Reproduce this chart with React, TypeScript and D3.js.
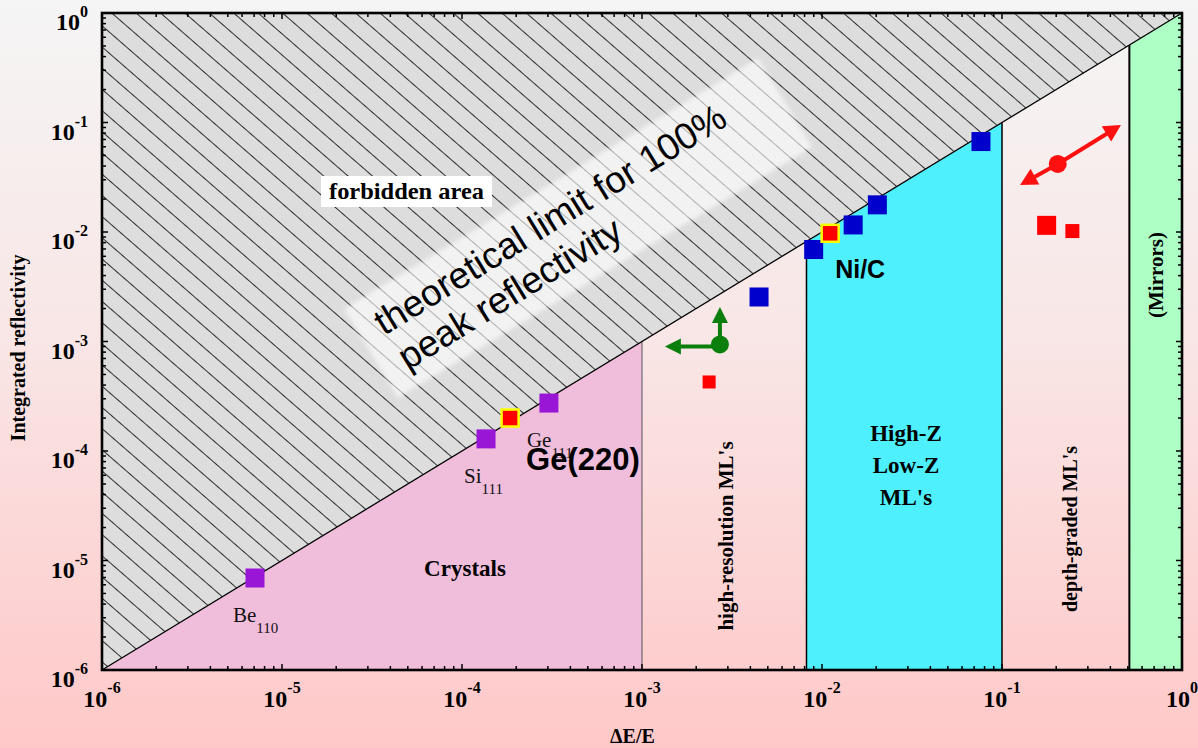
import React from "react";
import * as d3 from "d3";

const W = 1198;
const H = 748;
const PLOT = { left: 102, right: 1182, top: 13, bottom: 670 };

const SERIF = "'Liberation Serif', 'Times New Roman', serif";
const SANS = "'Liberation Sans', Arial, sans-serif";

// ΔE/E boundaries of the shaded technology bands
const crystalEdge = 1e-3;
const highZEdges = [0.0082, 0.1];
const mirrorEdge = 0.51;

// Crystal reflections (ΔE/E, integrated reflectivity)
const crystalNames = ["Be", "Si", "Ge"];
const crystalSubs = ["110", "111", "111"];
const crystalDE = [7.08e-6, 1.36e-4, 3.04e-4];
const crystalR = [6.92e-6, 1.29e-4, 2.74e-4];

// High-Z / low-Z multilayers
const mlDE = [4.47e-3, 8.99e-3, 1.49e-2, 2.03e-2, 7.64e-2];
const mlR = [2.55e-3, 6.92e-3, 1.16e-2, 1.77e-2, 6.7e-2];

// Highlighted measurements
const highlightNames = ["Ge(220)", "Ni/C"];
const highlightDE = [1.85e-4, 1.11e-2];
const highlightR = [2.0e-4, 9.73e-3];

// Other red squares
const redDE = [2.36e-3, 0.177, 0.246];
const redR = [4.27e-4, 1.15e-2, 1.02e-2];
const redSizes = [13, 19, 14];

// Trend points with arrows
const greenPoint = { dE: 2.71e-3, R: 9.4e-4 };
const greenArrowLeftTo = 1.34e-3;
const greenArrowUpTo = 2.07e-3;
const redPoint = { dE: 0.204, R: 4.18e-2 };
const redArrowEnds = [
  [0.126, 2.69e-2],
  [0.458, 9.48e-2],
];

const x = d3.scaleLog().domain([1e-6, 1]).range([PLOT.left, PLOT.right]);
const y = d3.scaleLog().domain([1e-6, 1]).range([PLOT.bottom, PLOT.top]);

const isDecade = (v: number) => Math.abs(Math.log10(v) - Math.round(Math.log10(v))) < 1e-9;

function arrowHead(x0: number, y0: number, x1: number, y1: number, len: number, half: number) {
  const dx = x1 - x0;
  const dy = y1 - y0;
  const d = Math.hypot(dx, dy);
  const ux = dx / d;
  const uy = dy / d;
  const bx = x1 - ux * len;
  const by = y1 - uy * len;
  const pts = [
    [x1, y1],
    [bx - uy * half, by + ux * half],
    [bx + uy * half, by - ux * half],
  ];
  return { points: pts.map((p) => p.join(",")).join(" "), base: [x1 - ux * len * 0.7, y1 - uy * len * 0.7] };
}

function Arrow({ x0, y0, x1, y1, color, width, len, half }: any) {
  const h = arrowHead(x0, y0, x1, y1, len, half);
  return (
    <g>
      <line x1={x0} y1={y0} x2={h.base[0]} y2={h.base[1]} stroke={color} strokeWidth={width} />
      <polygon points={h.points} fill={color} />
    </g>
  );
}

export default function App() {
  const ticks = x.ticks();
  const yTicks = y.ticks();
  const line = d3.line<[number, number]>().x((d) => x(d[0])).y((d) => y(d[1]));
  const poly = (pts: [number, number][]) => line(pts) + "Z";
  const lo = 1e-6;

  const forbidden = poly([
    [lo, lo],
    [lo, 1],
    [1, 1],
  ]);
  const crystalsArea = poly([
    [lo, lo],
    [crystalEdge, crystalEdge],
    [crystalEdge, lo],
  ]);
  const highZArea = poly([
    [highZEdges[0], lo],
    [highZEdges[0], highZEdges[0]],
    [highZEdges[1], highZEdges[1]],
    [highZEdges[1], lo],
  ]);
  const mirrorArea = poly([
    [mirrorEdge, lo],
    [mirrorEdge, mirrorEdge],
    [1, 1],
    [1, lo],
  ]);

  const sq = 19;
  const gx = x(greenPoint.dE);
  const gy = y(greenPoint.R);
  const rx = x(redPoint.dE);
  const ry = y(redPoint.R);

  const expLabel = (v: number) => Math.round(Math.log10(v)).toString();

  return (
    <div style={{ position: "absolute", left: 0, top: 0, width: W, height: H }}>
      <svg width={W} height={H} style={{ display: "block" }}>
        <defs>
          <linearGradient id="bg" x1="0" y1="0" x2="0" y2="1">
            <stop offset="0" stopColor="#f5f5f5" />
            <stop offset="0.45" stopColor="#f9e6e6" />
            <stop offset="1" stopColor="#ffc8c8" />
          </linearGradient>
          <pattern id="hatch" width="16" height="16" patternUnits="userSpaceOnUse" patternTransform="rotate(41)">
            <line x1="0" y1="0.5" x2="16" y2="0.5" stroke="#1a1a1a" strokeWidth="0.9" />
          </pattern>
          <filter id="soft" x="-10%" y="-20%" width="120%" height="140%">
            <feGaussianBlur stdDeviation="2" />
          </filter>
        </defs>

        <rect x={0} y={0} width={W} height={H} fill="url(#bg)" />

        {/* forbidden area above the 100 % reflectivity limit */}
        <path d={forbidden} fill="#dcdddc" />
        <path d={forbidden} fill="url(#hatch)" />

        {/* translucent band behind the limit caption */}
        <g transform="translate(578,228) rotate(-31.2)">
          <rect x={-242} y={-52} width={484} height={104} fill="#ffffff" opacity={0.62} filter="url(#soft)" />
        </g>
        <text
          transform="translate(384,336) rotate(-31.5)"
          fontFamily={SANS}
          fontSize={37}
          fill="#000"
        >
          <tspan x={0} y={0}>theoretical limit for 100%</tspan>
          <tspan x={2} y={42}>peak reflectivity</tspan>
        </text>

        <rect x={321} y={176} width={171} height={31} fill="#ffffff" />
        <text x={329} y={199} fontFamily={SERIF} fontWeight="bold" fontSize={24} textLength={155} lengthAdjust="spacingAndGlyphs">
          forbidden area
        </text>

        {/* technology bands */}
        <path d={crystalsArea} fill="#f0bedb" />
        <path d={highZArea} fill="#4ff0fd" />
        <path d={mirrorArea} fill="#adffc5" />

        <line x1={x(crystalEdge)} x2={x(crystalEdge)} y1={y(lo)} y2={y(crystalEdge)} stroke="#555" strokeWidth={1} />
        {highZEdges.map((e) => (
          <line key={e} x1={x(e)} x2={x(e)} y1={y(lo)} y2={y(e)} stroke="#000" strokeWidth={1.5} />
        ))}
        <line x1={x(mirrorEdge)} x2={x(mirrorEdge)} y1={y(lo)} y2={y(mirrorEdge)} stroke="#000" strokeWidth={2} />

        {/* 100 % peak reflectivity limit */}
        <line x1={x(lo)} y1={y(lo)} x2={x(1)} y2={y(1)} stroke="#000" strokeWidth={1.3} />

        {/* band captions */}
        <text x={465} y={576} textAnchor="middle" fontFamily={SERIF} fontWeight="bold" fontSize={23}>
          Crystals
        </text>
        <text x={906} y={441} textAnchor="middle" fontFamily={SERIF} fontWeight="bold" fontSize={23}>
          <tspan x={906} y={441}>High-Z</tspan>
          <tspan x={906} y={473}>Low-Z</tspan>
          <tspan x={906} y={505}>ML's</tspan>
        </text>
        <text transform="translate(733,536) rotate(-90)" textAnchor="middle" fontFamily={SERIF} fontWeight="bold" fontSize={21}>
          high-resolution ML's
        </text>
        <text transform="translate(1077,529) rotate(-90)" textAnchor="middle" fontFamily={SERIF} fontWeight="bold" fontSize={20}>
          depth-graded ML's
        </text>
        <text transform="translate(1163,275) rotate(-90)" textAnchor="middle" fontFamily={SERIF} fontWeight="bold" fontSize={21}>
          (Mirrors)
        </text>

        {/* crystal reflections */}
        {crystalDE.map((d, i) => (
          <rect key={"c" + i} x={x(d) - sq / 2} y={y(crystalR[i]) - sq / 2} width={sq} height={sq} fill="#9a16d6" />
        ))}
        {crystalDE.map((d, i) => (
          <text key={"cl" + i} x={x(d) - 22} y={y(crystalR[i]) + 44} fontFamily={SERIF} fontSize={21} fill="#111">
            {crystalNames[i]}
            <tspan dy={11} fontSize={15}>
              {crystalSubs[i]}
            </tspan>
          </text>
        ))}

        {/* multilayers */}
        {mlDE.map((d, i) => (
          <rect key={"m" + i} x={x(d) - sq / 2} y={y(mlR[i]) - sq / 2} width={sq} height={sq} fill="#0000cc" />
        ))}

        {/* other red squares */}
        {redDE.map((d, i) => (
          <rect
            key={"r" + i}
            x={x(d) - redSizes[i] / 2}
            y={y(redR[i]) - redSizes[i] / 2}
            width={redSizes[i]}
            height={redSizes[i]}
            fill="#ff0000"
          />
        ))}

        {/* highlighted measurements */}
        {highlightDE.map((d, i) => (
          <rect
            key={"h" + i}
            x={x(d) - 8.5}
            y={y(highlightR[i]) - 8.5}
            width={17}
            height={17}
            fill="#ff0000"
            stroke="#ffff00"
            strokeWidth={2.5}
          />
        ))}
        <text x={x(highlightDE[0]) + 16} y={y(highlightR[0]) + 52} fontFamily={SANS} fontWeight="bold" fontSize={31}>
          {highlightNames[0]}
        </text>
        <text x={x(highlightDE[1]) + 5} y={y(highlightR[1]) + 45} fontFamily={SANS} fontWeight="bold" fontSize={25}>
          {highlightNames[1]}
        </text>

        {/* green point with arrows */}
        <Arrow x0={gx} y0={gy + 2} x1={x(greenArrowLeftTo)} y1={gy + 2} color="#0b7f0b" width={4} len={16} half={8} />
        <Arrow x0={gx} y0={gy} x1={gx} y1={y(greenArrowUpTo)} color="#0b7f0b" width={4} len={16} half={8} />
        <circle cx={gx} cy={gy} r={9} fill="#0b7f0b" />

        {/* red point with double arrow */}
        <Arrow x0={rx} y0={ry} x1={x(redArrowEnds[0][0])} y1={y(redArrowEnds[0][1])} color="#ff1010" width={4} len={17} half={9} />
        <Arrow x0={rx} y0={ry} x1={x(redArrowEnds[1][0])} y1={y(redArrowEnds[1][1])} color="#ff1010" width={4} len={17} half={9} />
        <circle cx={rx} cy={ry} r={9} fill="#ff1010" />

        {/* axes frame with inward ticks */}
        {ticks.map((t, i) => {
          const len = isDecade(t) ? 6 : 4;
          const px = x(t);
          return (
            <g key={"xt" + i} stroke="#000" strokeWidth={1.5}>
              <line x1={px} x2={px} y1={PLOT.bottom} y2={PLOT.bottom - len} />
              <line x1={px} x2={px} y1={PLOT.top} y2={PLOT.top + len} />
            </g>
          );
        })}
        {yTicks.map((t, i) => {
          const len = isDecade(t) ? 6 : 4;
          const py = y(t);
          return (
            <g key={"yt" + i} stroke="#000" strokeWidth={1.5}>
              <line x1={PLOT.left} x2={PLOT.left + len} y1={py} y2={py} />
              <line x1={PLOT.right} x2={PLOT.right - len} y1={py} y2={py} />
            </g>
          );
        })}
        <rect
          x={PLOT.left}
          y={PLOT.top}
          width={PLOT.right - PLOT.left}
          height={PLOT.bottom - PLOT.top}
          fill="none"
          stroke="#000"
          strokeWidth={2.6}
        />

        {/* tick labels */}
        {ticks.filter(isDecade).map((t, i) => (
          <text key={"xl" + i} x={x(t)} y={PLOT.bottom + 37} textAnchor="middle" fontFamily={SERIF} fontWeight="bold" fontSize={24}>
            10
            <tspan dy={-14} fontSize={16}>
              {expLabel(t)}
            </tspan>
          </text>
        ))}
        {yTicks.filter(isDecade).map((t, i) => (
          <text key={"yl" + i} x={88} y={y(t) + 17} textAnchor="end" fontFamily={SERIF} fontWeight="bold" fontSize={24}>
            10
            <tspan dy={-13} fontSize={16}>
              {expLabel(t)}
            </tspan>
          </text>
        ))}

        {/* axis titles */}
        <text x={610} y={743} fontFamily={SERIF} fontWeight="bold" fontSize={20}>
          ΔE/E
        </text>
        <text transform="translate(25,348) rotate(-90)" textAnchor="middle" fontFamily={SERIF} fontWeight="bold" fontSize={20}>
          Integrated reflectivity
        </text>
      </svg>
    </div>
  );
}
